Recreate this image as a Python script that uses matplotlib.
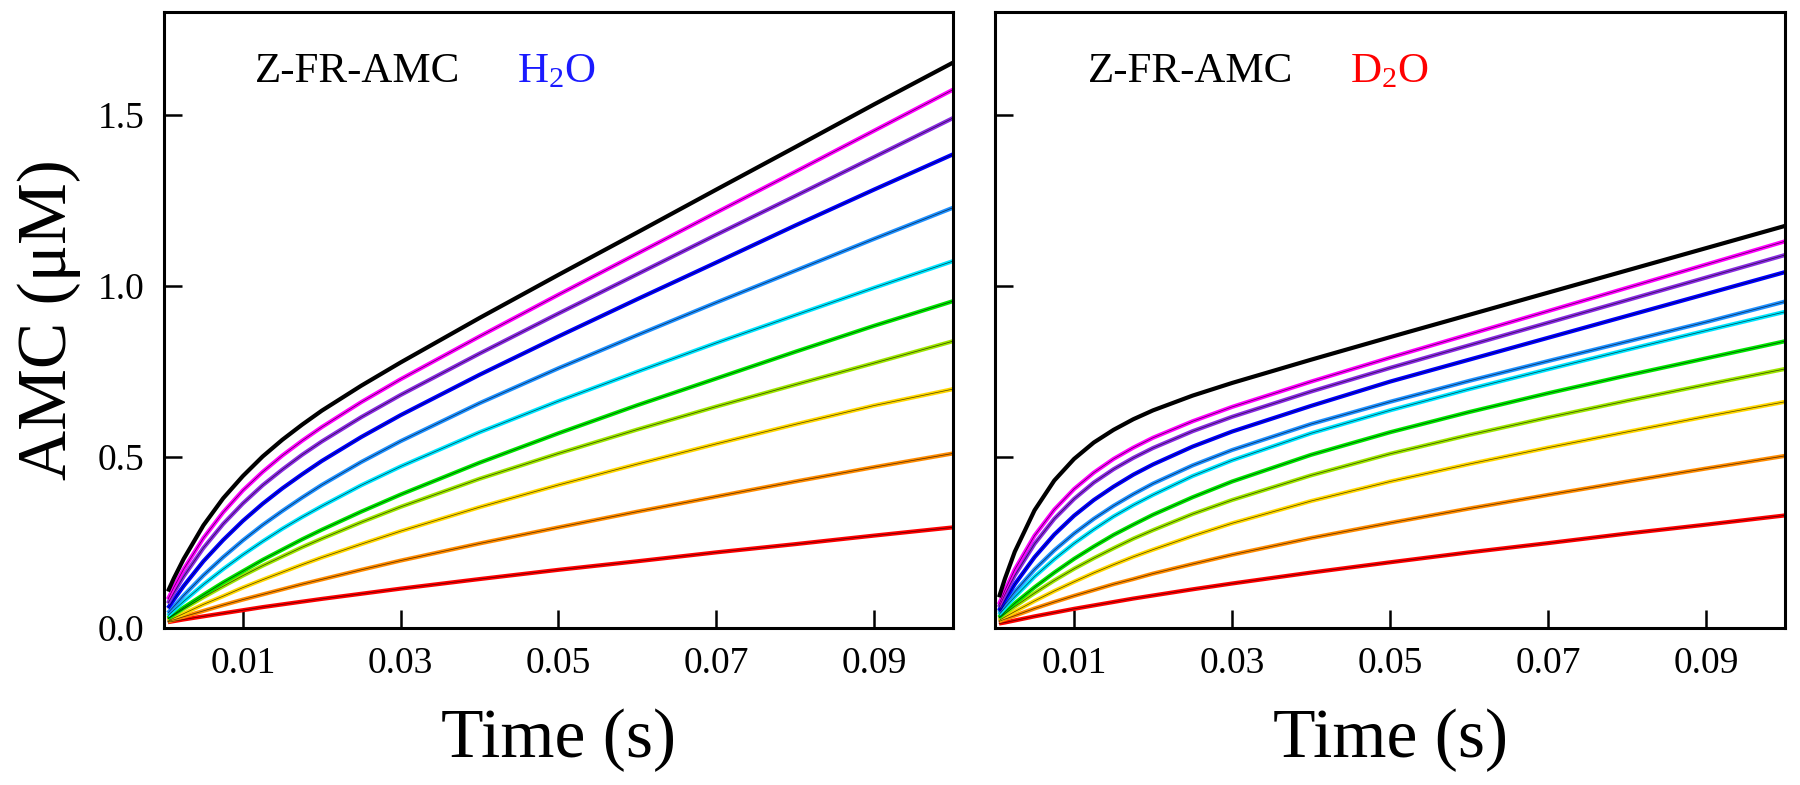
import numpy as np
import matplotlib
matplotlib.use("Agg")
import matplotlib.pyplot as plt

plt.rcParams["font.family"] = "serif"
plt.rcParams["font.serif"] = ["Liberation Serif", "DejaVu Serif"]
plt.rcParams["mathtext.fontset"] = "custom"
plt.rcParams["mathtext.rm"] = "Liberation Serif"
plt.rcParams["mathtext.it"] = "Liberation Serif:italic"

# tiempos de lectura (s)
t = [0.0005, 0.00125, 0.0025, 0.005, 0.0075, 0.01, 0.0125, 0.015, 0.0175, 0.02,
     0.025, 0.03, 0.04, 0.05, 0.06, 0.07, 0.08, 0.09, 0.1]

colores = ["#ff0000", "#ff8c00", "#ffd700", "#9ee600", "#00e600",
           "#00e5ff", "#1e90ff", "#0000ff", "#8a2be2", "#ff00ff", "#000000"]

# H2O, de abajo hacia arriba (rojo ... negro)
h2o = [
    [0.017, 0.020, 0.025, 0.034, 0.043, 0.052, 0.061, 0.069, 0.077, 0.085, 0.100, 0.115, 0.143, 0.170, 0.195, 0.221, 0.245, 0.270, 0.294],
    [0.019, 0.024, 0.033, 0.050, 0.067, 0.083, 0.098, 0.113, 0.128, 0.142, 0.170, 0.197, 0.247, 0.294, 0.340, 0.384, 0.428, 0.470, 0.510],
    [0.020, 0.029, 0.042, 0.069, 0.093, 0.118, 0.141, 0.163, 0.185, 0.206, 0.245, 0.283, 0.353, 0.418, 0.479, 0.538, 0.595, 0.650, 0.698],
    [0.027, 0.038, 0.056, 0.090, 0.122, 0.153, 0.182, 0.209, 0.236, 0.261, 0.309, 0.354, 0.436, 0.510, 0.580, 0.647, 0.711, 0.774, 0.838],
    [0.028, 0.040, 0.060, 0.097, 0.133, 0.166, 0.199, 0.229, 0.259, 0.287, 0.340, 0.390, 0.483, 0.569, 0.651, 0.729, 0.807, 0.883, 0.955],
    [0.036, 0.052, 0.078, 0.127, 0.172, 0.214, 0.253, 0.290, 0.324, 0.356, 0.417, 0.472, 0.572, 0.663, 0.749, 0.833, 0.914, 0.994, 1.072],
    [0.044, 0.063, 0.095, 0.154, 0.207, 0.256, 0.301, 0.342, 0.381, 0.418, 0.485, 0.546, 0.657, 0.759, 0.856, 0.951, 1.044, 1.137, 1.228],
    [0.058, 0.083, 0.123, 0.195, 0.257, 0.313, 0.363, 0.408, 0.449, 0.488, 0.558, 0.622, 0.740, 0.852, 0.961, 1.068, 1.176, 1.281, 1.384],
    [0.072, 0.103, 0.151, 0.234, 0.304, 0.364, 0.417, 0.463, 0.506, 0.545, 0.616, 0.681, 0.802, 0.919, 1.034, 1.149, 1.262, 1.376, 1.490],
    [0.084, 0.119, 0.172, 0.263, 0.338, 0.402, 0.456, 0.504, 0.547, 0.587, 0.660, 0.727, 0.852, 0.974, 1.094, 1.214, 1.333, 1.453, 1.573],
    [0.107, 0.145, 0.202, 0.300, 0.379, 0.444, 0.501, 0.550, 0.594, 0.635, 0.708, 0.776, 0.906, 1.032, 1.156, 1.281, 1.405, 1.530, 1.652],
]

# D2O, mismo orden
d2o = [
    [0.013, 0.016, 0.022, 0.034, 0.045, 0.056, 0.066, 0.076, 0.086, 0.095, 0.113, 0.130, 0.162, 0.192, 0.221, 0.248, 0.276, 0.302, 0.329],
    [0.019, 0.026, 0.036, 0.057, 0.076, 0.094, 0.111, 0.128, 0.143, 0.159, 0.187, 0.214, 0.263, 0.307, 0.349, 0.389, 0.428, 0.466, 0.503],
    [0.022, 0.032, 0.048, 0.079, 0.108, 0.135, 0.161, 0.185, 0.208, 0.229, 0.269, 0.306, 0.371, 0.428, 0.479, 0.527, 0.573, 0.618, 0.661],
    [0.029, 0.042, 0.063, 0.102, 0.139, 0.173, 0.204, 0.233, 0.261, 0.286, 0.333, 0.374, 0.446, 0.509, 0.564, 0.615, 0.664, 0.711, 0.757],
    [0.031, 0.047, 0.072, 0.119, 0.162, 0.202, 0.238, 0.272, 0.302, 0.331, 0.382, 0.428, 0.506, 0.572, 0.631, 0.686, 0.738, 0.788, 0.838],
    [0.039, 0.059, 0.091, 0.150, 0.201, 0.247, 0.288, 0.326, 0.359, 0.389, 0.444, 0.490, 0.569, 0.636, 0.698, 0.756, 0.813, 0.869, 0.924],
    [0.046, 0.069, 0.106, 0.171, 0.227, 0.276, 0.319, 0.357, 0.391, 0.422, 0.475, 0.520, 0.596, 0.661, 0.722, 0.780, 0.837, 0.894, 0.954],
    [0.051, 0.082, 0.128, 0.207, 0.273, 0.328, 0.374, 0.413, 0.448, 0.478, 0.530, 0.574, 0.649, 0.720, 0.784, 0.848, 0.912, 0.976, 1.040],
    [0.061, 0.098, 0.154, 0.246, 0.319, 0.377, 0.425, 0.464, 0.497, 0.526, 0.575, 0.617, 0.691, 0.760, 0.826, 0.892, 0.958, 1.024, 1.090],
    [0.069, 0.110, 0.171, 0.270, 0.346, 0.406, 0.454, 0.494, 0.527, 0.556, 0.604, 0.646, 0.720, 0.790, 0.858, 0.926, 0.994, 1.062, 1.130],
    [0.090, 0.144, 0.223, 0.344, 0.431, 0.494, 0.542, 0.579, 0.610, 0.636, 0.679, 0.716, 0.784, 0.850, 0.915, 0.980, 1.045, 1.110, 1.175],
]

x_ticks = [0.01, 0.03, 0.05, 0.07, 0.09]
y_ticks = [0.0, 0.5, 1.0, 1.5]

fig = plt.figure(figsize=(18, 7.85), dpi=100)
ax1 = fig.add_axes([0.0911, 0.2, 0.4383, 0.7847])
ax2 = fig.add_axes([0.5528, 0.2, 0.4389, 0.7847])

for ax, datos in [(ax1, h2o), (ax2, d2o)]:
    # trazas medidas (color) y ajustes (negro fino)
    for curva, c in zip(datos, colores):
        ax.plot(t, curva, color=c, lw=3.0, solid_joinstyle="round",
                solid_capstyle="butt")
    for curva in datos:
        ax.plot(t, curva, color="black", lw=0.5, alpha=0.7)
    ax.set_xlim(0, 0.1)
    ax.set_ylim(0, 1.8)
    ax.set_xticks(x_ticks)
    ax.set_xticklabels(["%.2f" % v for v in x_ticks])
    ax.set_yticks(y_ticks)
    ax.tick_params(direction="in", length=13, width=1.8, labelsize=27,
                   top=False, right=False)
    ax.tick_params(axis="x", pad=13)
    ax.tick_params(axis="y", pad=14)
    for s in ax.spines.values():
        s.set_linewidth(2.2)
    ax.set_xlabel("Time (s)", fontsize=50, labelpad=20)

ax1.set_yticklabels(["%.1f" % v for v in y_ticks])
ax2.set_yticklabels([])
ax1.set_ylabel("AMC (μM)", fontsize=50, labelpad=12)

ax1.text(0.115, 0.886, "Z-FR-AMC", transform=ax1.transAxes, fontsize=31,
         va="baseline", ha="left")
ax1.text(0.447, 0.886, "H$_2$O", transform=ax1.transAxes, fontsize=31,
         va="baseline", ha="left", color="#1a1aff")
ax2.text(0.118, 0.886, "Z-FR-AMC", transform=ax2.transAxes, fontsize=31,
         va="baseline", ha="left")
ax2.text(0.449, 0.886, "D$_2$O", transform=ax2.transAxes, fontsize=31,
         va="baseline", ha="left", color="#ff0000")

fig.savefig("out.png", dpi=100)
